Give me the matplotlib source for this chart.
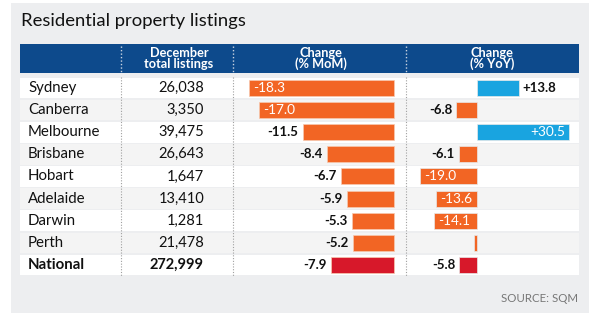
import matplotlib.pyplot as plt
from matplotlib.patches import Rectangle

plt.rcParams['font.family'] = ['Lato', 'DejaVu Sans']

# --- Data ---
cities = ['Sydney', 'Canberra', 'Melbourne', 'Brisbane', 'Hobart',
          'Adelaide', 'Darwin', 'Perth', 'National']
listings = ['26,038', '3,350', '39,475', '26,643', '1,647',
            '13,410', '1,281', '21,478', '272,999']
mom = [-18.3, -17.0, -11.5, -8.4, -6.7, -5.9, -5.3, -5.2, -7.9]
yoy = [13.8, -6.8, 30.5, -6.1, -19.0, -13.6, -14.1, -0.9, -5.8]
yoy_labels = ['+13.8', '-6.8', '+30.5', '-6.1', '-19.0', '-13.6', '-14.1', '', '-5.8']
mom_inside = [True, True, False, False, False, False, False, False, False]
yoy_inside = [False, False, True, False, True, True, True, False, False]

ORANGE = '#f26524'
BLUE = '#19a4e0'
RED = '#d7182a'
NAVY = '#0d4a8c'

# --- Figure / background in pixel coordinates ---
fig = plt.figure(figsize=(6.03, 3.28), dpi=100)
fig.patch.set_facecolor('white')
bg = fig.add_axes([0, 0, 1, 1])
bg.set_xlim(0, 603)
bg.set_ylim(328, 0)
bg.axis('off')

bg.add_patch(Rectangle((11, 3), 578, 310, color='#edeef0', lw=0))
bg.text(21, 21, 'Residential property listings', fontsize=13.3,
        color='#111111', va='center', ha='left')

# header band
bg.add_patch(Rectangle((20, 44), 559, 29, color=NAVY, lw=0))
hdr_kw = dict(color='white', fontsize=9.2, fontweight='bold', ha='center',
              va='center', linespacing=0.92)
bg.text(179, 58.5, 'December\ntotal listings', **hdr_kw)
bg.text(321, 58.5, 'Change\n(% MoM)', **hdr_kw)
bg.text(492, 58.5, 'Change\n(% YoY)', **hdr_kw)

row_top = 77
pitch = 22.1
for i, (city, n) in enumerate(zip(cities, listings)):
    y0 = row_top + i * pitch
    bg.add_patch(Rectangle((20, y0 + 0.8), 559, pitch - 1.6,
                           color='white' if i % 2 == 0 else '#f4f4f4', lw=0))
    w = 'bold' if city == 'National' else 'normal'
    bg.text(28, y0 + pitch / 2, city, fontsize=10.8, fontweight=w,
            va='center', ha='left', color='#111111')
    bg.text(204, y0 + pitch / 2, n, fontsize=10.5, fontweight=w,
            va='center', ha='right', color='#111111')

# dotted column dividers
for x in [121, 233, 406]:
    bg.plot([x, x], [46, 72], color='#c9d3e0', lw=1, ls=(0, (1, 1.5)))
    bg.plot([x, x], [row_top, row_top + 9 * pitch], color='#a0a0a0',
            lw=0.8, ls=(0, (1, 1.5)))

bg.text(578, 299, 'SOURCE: SQM', fontsize=8.3, color='#777777',
        ha='right', va='center')

rows = list(range(len(cities)))
colors_mom = [RED if c == 'National' else ORANGE for c in cities]
colors_yoy = [RED if c == 'National' else (BLUE if v > 0 else ORANGE)
              for c, v in zip(cities, yoy)]


def bar_axes(x0, x1, xlim):
    ax = fig.add_axes([x0 / 603, 1 - (row_top + 9 * pitch) / 328,
                       (x1 - x0) / 603, 9 * pitch / 328])
    ax.set_xlim(*xlim)
    ax.set_ylim(8.5, -0.5)
    ax.axis('off')
    ax.patch.set_alpha(0)
    return ax


# --- MoM bars ---
ax1 = bar_axes(233, 406, (-20.25, 1.5))
ax1.barh(rows, mom, height=0.72, color=colors_mom, edgecolor='#f7c9b0', lw=0.5)
for r, v, inside in zip(rows, mom, mom_inside):
    lab = f'{v:.1f}'
    if inside:
        ax1.annotate(lab, (v, r), xytext=(3, 0), textcoords='offset points',
                     ha='left', va='center', color='white', fontsize=9.8)
    else:
        ax1.annotate(lab, (v, r), xytext=(-3, 0), textcoords='offset points',
                     ha='right', va='center', color='#111111', fontsize=9.5,
                     fontweight='bold')

# --- YoY bars ---
ax2 = bar_axes(406, 579, (-23.5, 33.8))
ax2.barh(rows, yoy, height=0.72, color=colors_yoy, edgecolor='#e8e8e8', lw=0.5)
for r, v, lab, inside in zip(rows, yoy, yoy_labels, yoy_inside):
    if not lab:
        continue
    sign = 1 if v > 0 else -1
    if inside:
        ax2.annotate(lab, (v, r), xytext=(-3 * sign, 0), textcoords='offset points',
                     ha='right' if v > 0 else 'left', va='center',
                     color='white', fontsize=9.8)
    else:
        ax2.annotate(lab, (v, r), xytext=(3 * sign, 0), textcoords='offset points',
                     ha='left' if v > 0 else 'right', va='center',
                     color='#111111', fontsize=9.5, fontweight='bold')

fig.savefig('out.png', dpi=100)
